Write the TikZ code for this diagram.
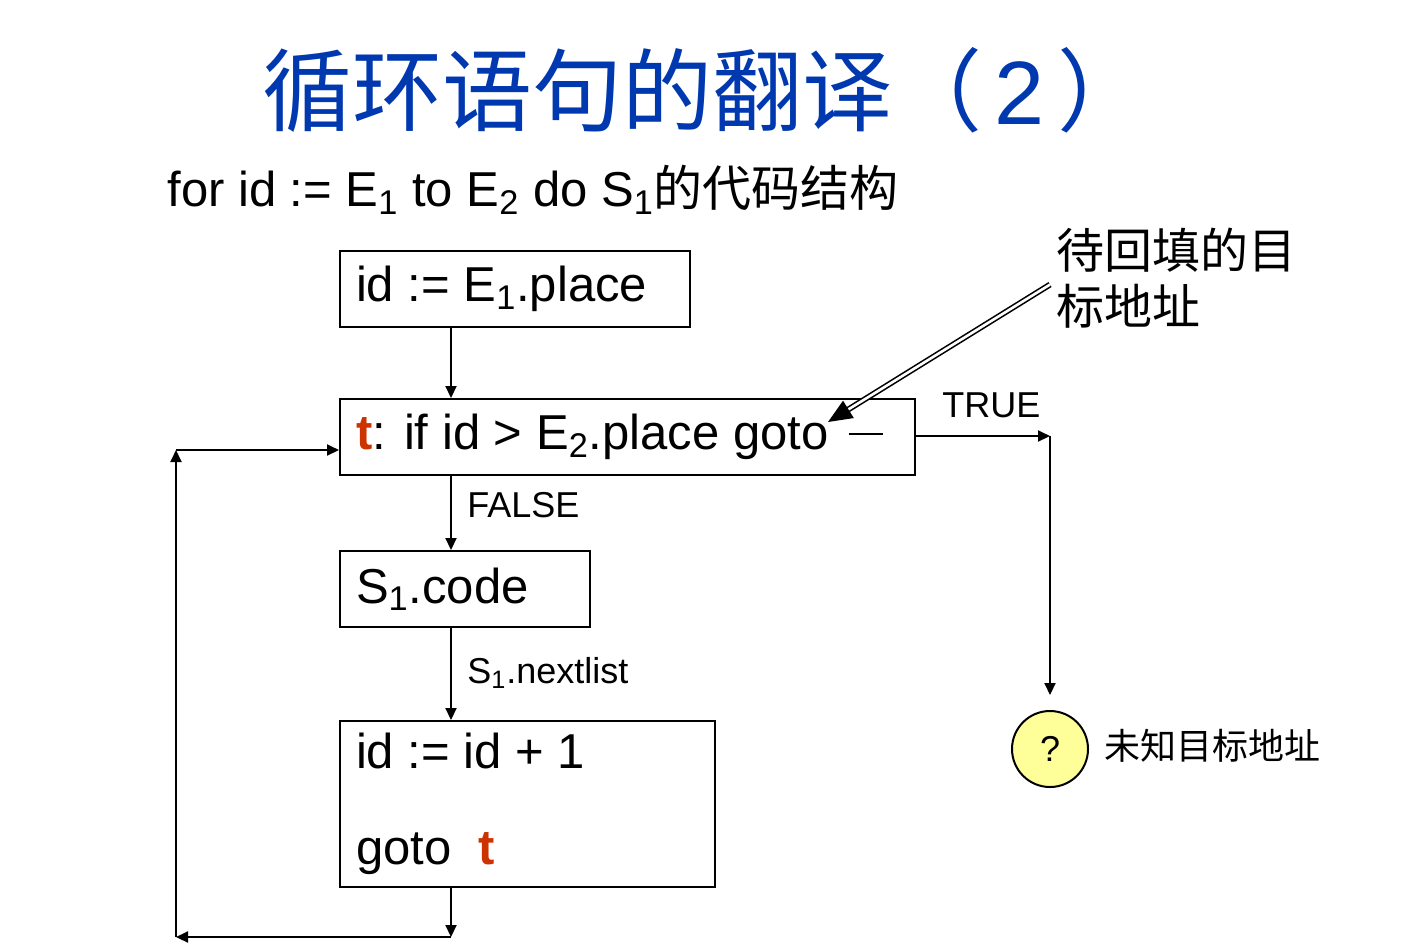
\documentclass[tikz,border=0pt]{standalone}
\usepackage{fontspec}
\setmainfont{Liberation Sans}
\newfontfamily\cjk{Noto Sans CJK SC}
\usepackage{tikz}
\usetikzlibrary{arrows.meta,positioning,calc}
\usepackage{xcolor}
\definecolor{titleblue}{RGB}{0,56,176}
\definecolor{labelred}{RGB}{204,51,0}
\definecolor{qyellow}{RGB}{255,255,153}
\newcommand{\zh}[1]{{\cjk #1}}
\newcommand{\lbl}[1]{\textcolor{labelred}{\textbf{#1}}}
\newcommand{\blank}{\rule[7.5pt]{17pt}{1pt}}
\tikzset{
  codebox/.style={draw=black,line width=1pt,fill=white,inner xsep=8pt,inner ysep=0pt,
                  align=flush left,anchor=north west,font=\fontsize{24.5}{28}\selectfont},
  flow/.style={-{Triangle[length=6pt,width=5.5pt]},draw=black,line width=1pt},
  hint/.style={double=white,double distance=1.3pt,line width=.8pt,
               -{Triangle[length=12pt,width=10pt]}},
  branch/.style={anchor=west,inner sep=0pt,font=\fontsize{18}{22}\selectfont},
  unknown/.style={circle,draw=black,line width=1pt,fill=qyellow,minimum size=38pt,
                  inner sep=0pt,font=\fontsize{18}{22}\selectfont},
}
\begin{document}
\begin{tikzpicture}[x=0.5pt,y=-0.5pt]
  \useasboundingbox (0,0) rectangle (1402,950);
  \node[text=titleblue,font=\fontsize{45}{50}\selectfont] (title) at (705,90)
    {\zh{循环语句的翻译（}\hspace{6pt}2\hspace{6pt}\zh{）}};
  \node[anchor=west,inner sep=0pt,font=\fontsize{24.5}{28}\selectfont] (sub) at (167,190)
    {for id := E\textsubscript{1} to E\textsubscript{2} do S\textsubscript{1}\zh{的代码结构}};
  % boxes
  \node[codebox,minimum height=38pt,text width=159pt] (init) at (339,250)
    {id := E\textsubscript{1}.place};
  \node[codebox,minimum height=38pt,text width=271.5pt] (test) at (339,398)
    {\lbl{t}: if id > E\textsubscript{2}.place goto\hspace{10pt}\blank};
  \node[codebox,minimum height=38pt,text width=109pt] (body) at (339,550)
    {S\textsubscript{1}.code};
  \node[codebox,minimum height=83pt,text width=171.5pt] (step) at (339,720)
    {id := id + 1\\[20pt]goto\ \ \lbl{t}};
  \node[unknown] (q) at (1050,749) {?};
  \node[anchor=west,inner sep=0pt,font=\cjk\fontsize{18}{22}\selectfont] (qtxt) at (1104,746)
    {未知目标地址};
  \node[anchor=north west,inner sep=0pt,align=left,font=\cjk\fontsize{24}{28}\selectfont] (note)
    at (1056,228) {待回填的目\\标地址};
  % branch labels
  \node[branch] (false) at (467,505) {FALSE};
  \node[branch] (next) at (467,673) {S\textsubscript{1}.nextlist};
  \node[branch] (true) at (942,405) {TRUE};
  % helper points
  \coordinate (col) at (451,0);
  \coordinate (tr) at (1050,436);
  \coordinate (lb) at (451,937);
  \coordinate (lc) at (176,937);
  \coordinate (ld) at (176,450);
  \coordinate (hole) at (828,422);
  % connectors
  \draw[flow] (init.south -| col) -- (test.north -| col);
  \draw[flow] (test.south -| col) -- (body.north -| col);
  \draw[flow] (body.south -| col) -- (step.north -| col);
  \draw[flow] (step.south -| col) -- (lb);
  \draw[flow] (lb) -- (lc);
  \draw[flow] (lc) -- (ld);
  \draw[flow] (ld) -- (ld -| test.west);
  \draw[flow] (test.east |- tr) -- (tr);
  \draw[flow,shorten >=7.5pt] (tr) -- (q.north);
  \draw[hint] ([xshift=-3pt,yshift=-3pt]note.west) -- (hole);
\end{tikzpicture}
\end{document}
